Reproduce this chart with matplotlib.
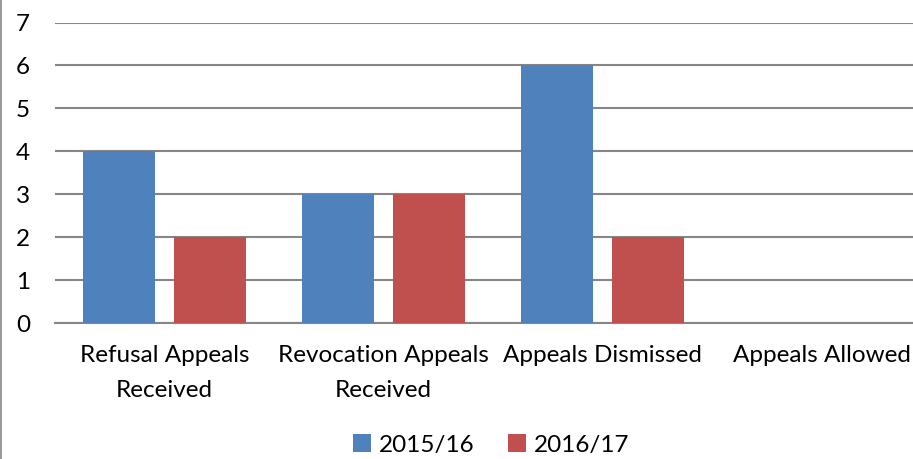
import numpy as np
import matplotlib.pyplot as plt

categories = ['Refusal Appeals\nReceived', 'Revocation Appeals\nReceived',
              'Appeals Dismissed', 'Appeals Allowed']
series_2015 = [4, 3, 6, 0]
series_2016 = [2, 3, 2, 0]
series_names = ['2015/16', '2016/17']
yticks = [0, 1, 2, 3, 4, 5, 6, 7]

plt.rcParams['font.family'] = ['Lato', 'DejaVu Sans']

fig = plt.figure(figsize=(9.13, 4.59), dpi=100)
# plot area runs past the right edge of the picture
ax = fig.add_axes([55 / 913, 1 - 323 / 459, 876 / 913, (323 - 22.5) / 459])

x = np.arange(len(categories))
w = 0.329
off = 0.208
ax.bar(x - off, series_2015, w, color='#4F81BD', label=series_names[0], zorder=3)
ax.bar(x + off, series_2016, w, color='#C0504D', label=series_names[1], zorder=3)

ax.set_xlim(-0.5, 3.5)
ax.set_ylim(0, 7)
ax.set_yticks(yticks)
ax.grid(axis='y', color='#868686', linewidth=1.5, zorder=0)
ax.set_axisbelow(True)
for s in ['top', 'right', 'left']:
    ax.spines[s].set_visible(False)
ax.spines['bottom'].set_color('#868686')
ax.spines['bottom'].set_linewidth(1.5)
ax.tick_params(axis='y', length=0, pad=18, labelsize=17.5)
ax.tick_params(axis='x', length=0, pad=16, labelsize=17.5)
ax.set_xticks(x)
ax.set_xticklabels(categories, linespacing=1.8)

ax.legend(loc='center', bbox_to_anchor=((491 - 55) / 876, (323 - 445) / 300.5),
          ncol=2, frameon=False, fontsize=17.5, handlelength=0.75, handleheight=0.75,
          handletextpad=0.3, columnspacing=1.4)

# left border line of the picture
fig.add_artist(plt.Line2D([0.0015, 0.0015], [0, 1], color='#868686', linewidth=1.2))

fig.savefig('out.png', dpi=100)
